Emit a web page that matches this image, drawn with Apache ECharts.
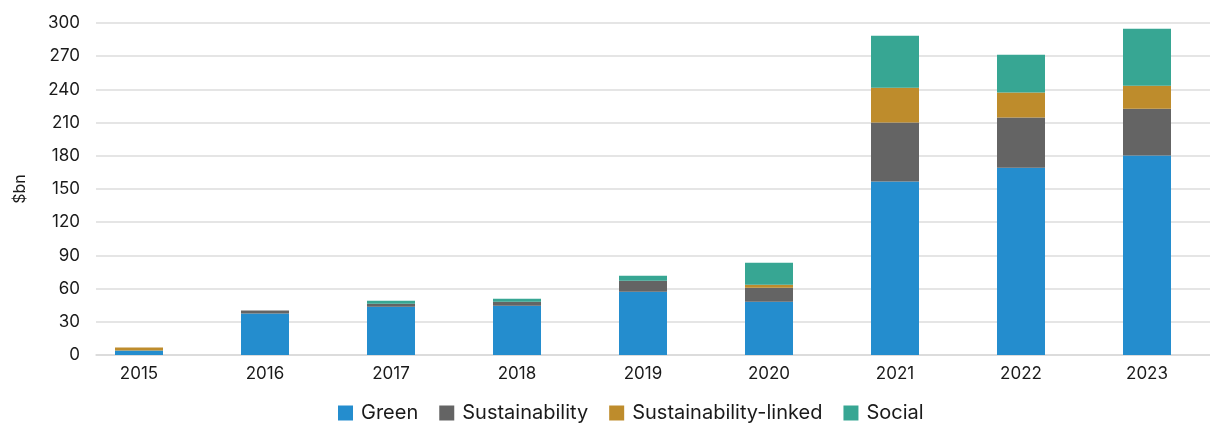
<!DOCTYPE html>
<html>
<head>
<meta charset="utf-8">
<script src="https://cdn.jsdelivr.net/npm/echarts@6/dist/echarts.min.js"></script>
<style>
  html, body { margin: 0; padding: 0; background: #fff; }
  #chart { width: 1210px; height: 424px; }
</style>
</head>
<body>
<div id="chart"></div>
<script>
var years = ['2015', '2016', '2017', '2018', '2019', '2020', '2021', '2022', '2023'];
var green = [4, 37.6, 43.7, 44.6, 57.2, 48.2, 156.7, 169.3, 180.2];
var sustainability = [0, 2.5, 2.7, 3.6, 9.9, 12.6, 53.3, 45.2, 42.4];
var sustainabilityLinked = [2.7, 0, 0, 0, 0, 2.7, 31.6, 22.6, 20.8];
var social = [0, 0, 2.7, 2.7, 4.5, 19.8, 46.9, 34.3, 51.5];
var yTicks = { min: 0, max: 300, interval: 30 };

var font = 'Inter, "Liberation Sans", sans-serif';
var chart = echarts.init(document.getElementById('chart'));

function bar(name, data, color) {
    return {
        name: name,
        type: 'bar',
        stack: 'total',
        barWidth: 48,
        xAxisIndex: 0,
        yAxisIndex: 0,
        itemStyle: { color: color },
        data: data
    };
}

var option = {
    animation: false,
    textStyle: { fontFamily: font },
    grid: [
        { left: 76, right: 0, top: 23, bottom: 69 },
        { left: 96, right: 0, top: 23, bottom: 69 }
    ],
    legend: {
        left: 338,
        top: 403,
        padding: 0,
        itemWidth: 15,
        itemHeight: 15,
        itemGap: 21,
        icon: 'rect',
        textStyle: { fontSize: 20, color: '#1a1a1a', fontFamily: font, padding: [0, 0, 0, 3] },
        data: ['Green', 'Sustainability', 'Sustainability-linked', 'Social']
    },
    xAxis: [
        {
            type: 'category',
            gridIndex: 0,
            data: years,
            axisLine: { show: false },
            axisTick: { show: false },
            axisLabel: { fontSize: 17, color: '#1a1a1a', margin: 10 }
        },
        {
            type: 'category',
            gridIndex: 1,
            data: years,
            axisLine: { show: true, lineStyle: { color: '#d9d9d9', width: 1.5 } },
            axisTick: { show: false },
            axisLabel: { show: false }
        }
    ],
    yAxis: [
        {
            type: 'value',
            gridIndex: 0,
            min: yTicks.min, max: yTicks.max, interval: yTicks.interval,
            axisLabel: { show: false },
            splitLine: { show: false },
            axisLine: { show: false },
            axisTick: { show: false }
        },
        {
            type: 'value',
            gridIndex: 1,
            min: yTicks.min, max: yTicks.max, interval: yTicks.interval,
            name: '$bn',
            nameLocation: 'middle',
            nameGap: 68,
            nameRotate: 90,
            nameTextStyle: { fontSize: 16, color: '#1a1a1a' },
            axisLabel: { fontSize: 17, color: '#1a1a1a', margin: 16 },
            splitLine: { lineStyle: { color: '#dcdcdc', width: 1.5 } },
            axisLine: { show: false },
            axisTick: { show: false }
        }
    ],
    series: [
        bar('Green', green, '#248dce'),
        bar('Sustainability', sustainability, '#646464'),
        bar('Sustainability-linked', sustainabilityLinked, '#be8c2c'),
        bar('Social', social, '#37a693')
    ]
};

chart.setOption(option);
</script>
</body>
</html>
